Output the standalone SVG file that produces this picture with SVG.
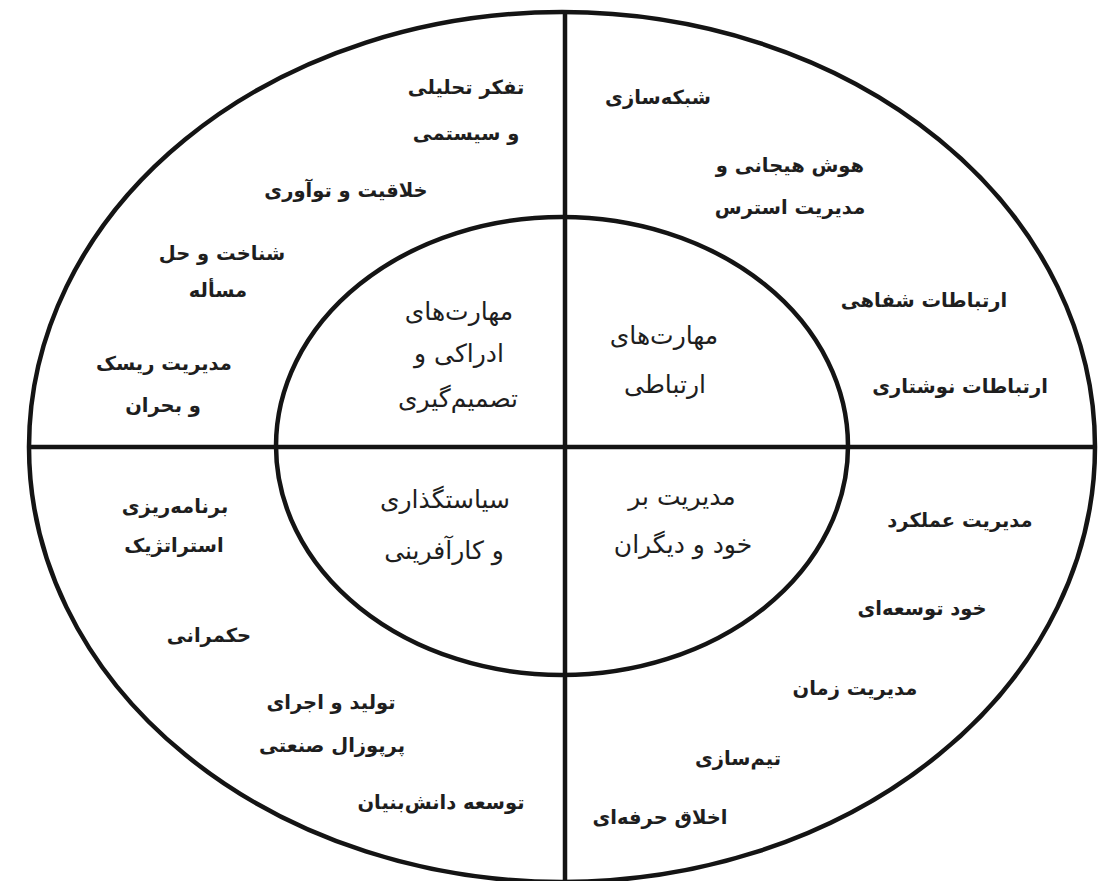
<svg xmlns="http://www.w3.org/2000/svg" width="1112" height="881" viewBox="0 0 1112 881">
<style>
.ln{fill:none;stroke:#141414;stroke-width:4.5}
text{font-family:"DejaVu Sans","Noto Sans",sans-serif;fill:#1e1e1e;text-anchor:middle;direction:rtl}
.o{font-size:19.5px;font-weight:bold}
.i{font-size:25px}
</style>
<rect width="1112" height="881" fill="#ffffff"/>
<g id="frame">
<ellipse class="ln" cx="562" cy="447" rx="533" ry="435"/>
<ellipse class="ln" cx="562" cy="446" rx="286" ry="229"/>
</g>
<g id="connectors">
<line class="ln" x1="565" y1="12" x2="565" y2="881"/>
<line class="ln" x1="29" y1="447" x2="1095" y2="447"/>
</g>
<g id="core-cognitive"><text class="i" x="459" y="320">مهارت‌های</text><text class="i" x="459" y="362">ادراکی و</text><text class="i" x="458" y="407">تصمیم‌گیری</text></g>
<g id="core-communication"><text class="i" x="664" y="344">مهارت‌های</text><text class="i" x="665" y="393">ارتباطی</text></g>
<g id="core-policy"><text class="i" x="445" y="508">سیاستگذاری</text><text class="i" x="444" y="559">و کارآفرینی</text></g>
<g id="core-management"><text class="i" x="682" y="505">مدیریت بر</text><text class="i" x="683" y="553">خود و دیگران</text></g>
<g id="n-analytic"><text class="o" x="466" y="94">تفکر تحلیلی</text><text class="o" x="466" y="140">و سیستمی</text></g>
<g id="n-creativity"><text class="o" x="346" y="197">خلاقیت و توآوری</text></g>
<g id="n-problem"><text class="o" x="222" y="260">شناخت و حل</text><text class="o" x="218" y="297">مسأله</text></g>
<g id="n-risk"><text class="o" x="164" y="370">مدیریت ریسک</text><text class="o" x="163" y="412">و بحران</text></g>
<g id="n-network"><text class="o" x="658" y="104">شبکه‌سازی</text></g>
<g id="n-emotional"><text class="o" x="790" y="172">هوش هیجانی و</text><text class="o" x="790" y="214">مدیریت استرس</text></g>
<g id="n-oral"><text class="o" x="924" y="307">ارتباطات شفاهی</text></g>
<g id="n-written"><text class="o" x="960" y="393">ارتباطات نوشتاری</text></g>
<g id="n-strategic"><text class="o" x="175" y="513">برنامه‌ریزی</text><text class="o" x="174" y="552">استراتژیک</text></g>
<g id="n-governance"><text class="o" x="209" y="642">حکمرانی</text></g>
<g id="n-proposal"><text class="o" x="331" y="709">تولید و اجرای</text><text class="o" x="332" y="752">پرپوزال صنعتی</text></g>
<g id="n-knowledge"><text class="o" x="441" y="809">توسعه دانش‌بنیان</text></g>
<g id="n-performance"><text class="o" x="960" y="527">مدیریت عملکرد</text></g>
<g id="n-selfdev"><text class="o" x="922" y="615">خود توسعه‌ای</text></g>
<g id="n-time"><text class="o" x="855" y="695">مدیریت زمان</text></g>
<g id="n-team"><text class="o" x="738" y="765">تیم‌سازی</text></g>
<g id="n-ethics"><text class="o" x="660" y="824">اخلاق حرفه‌ای</text></g>
</svg>
